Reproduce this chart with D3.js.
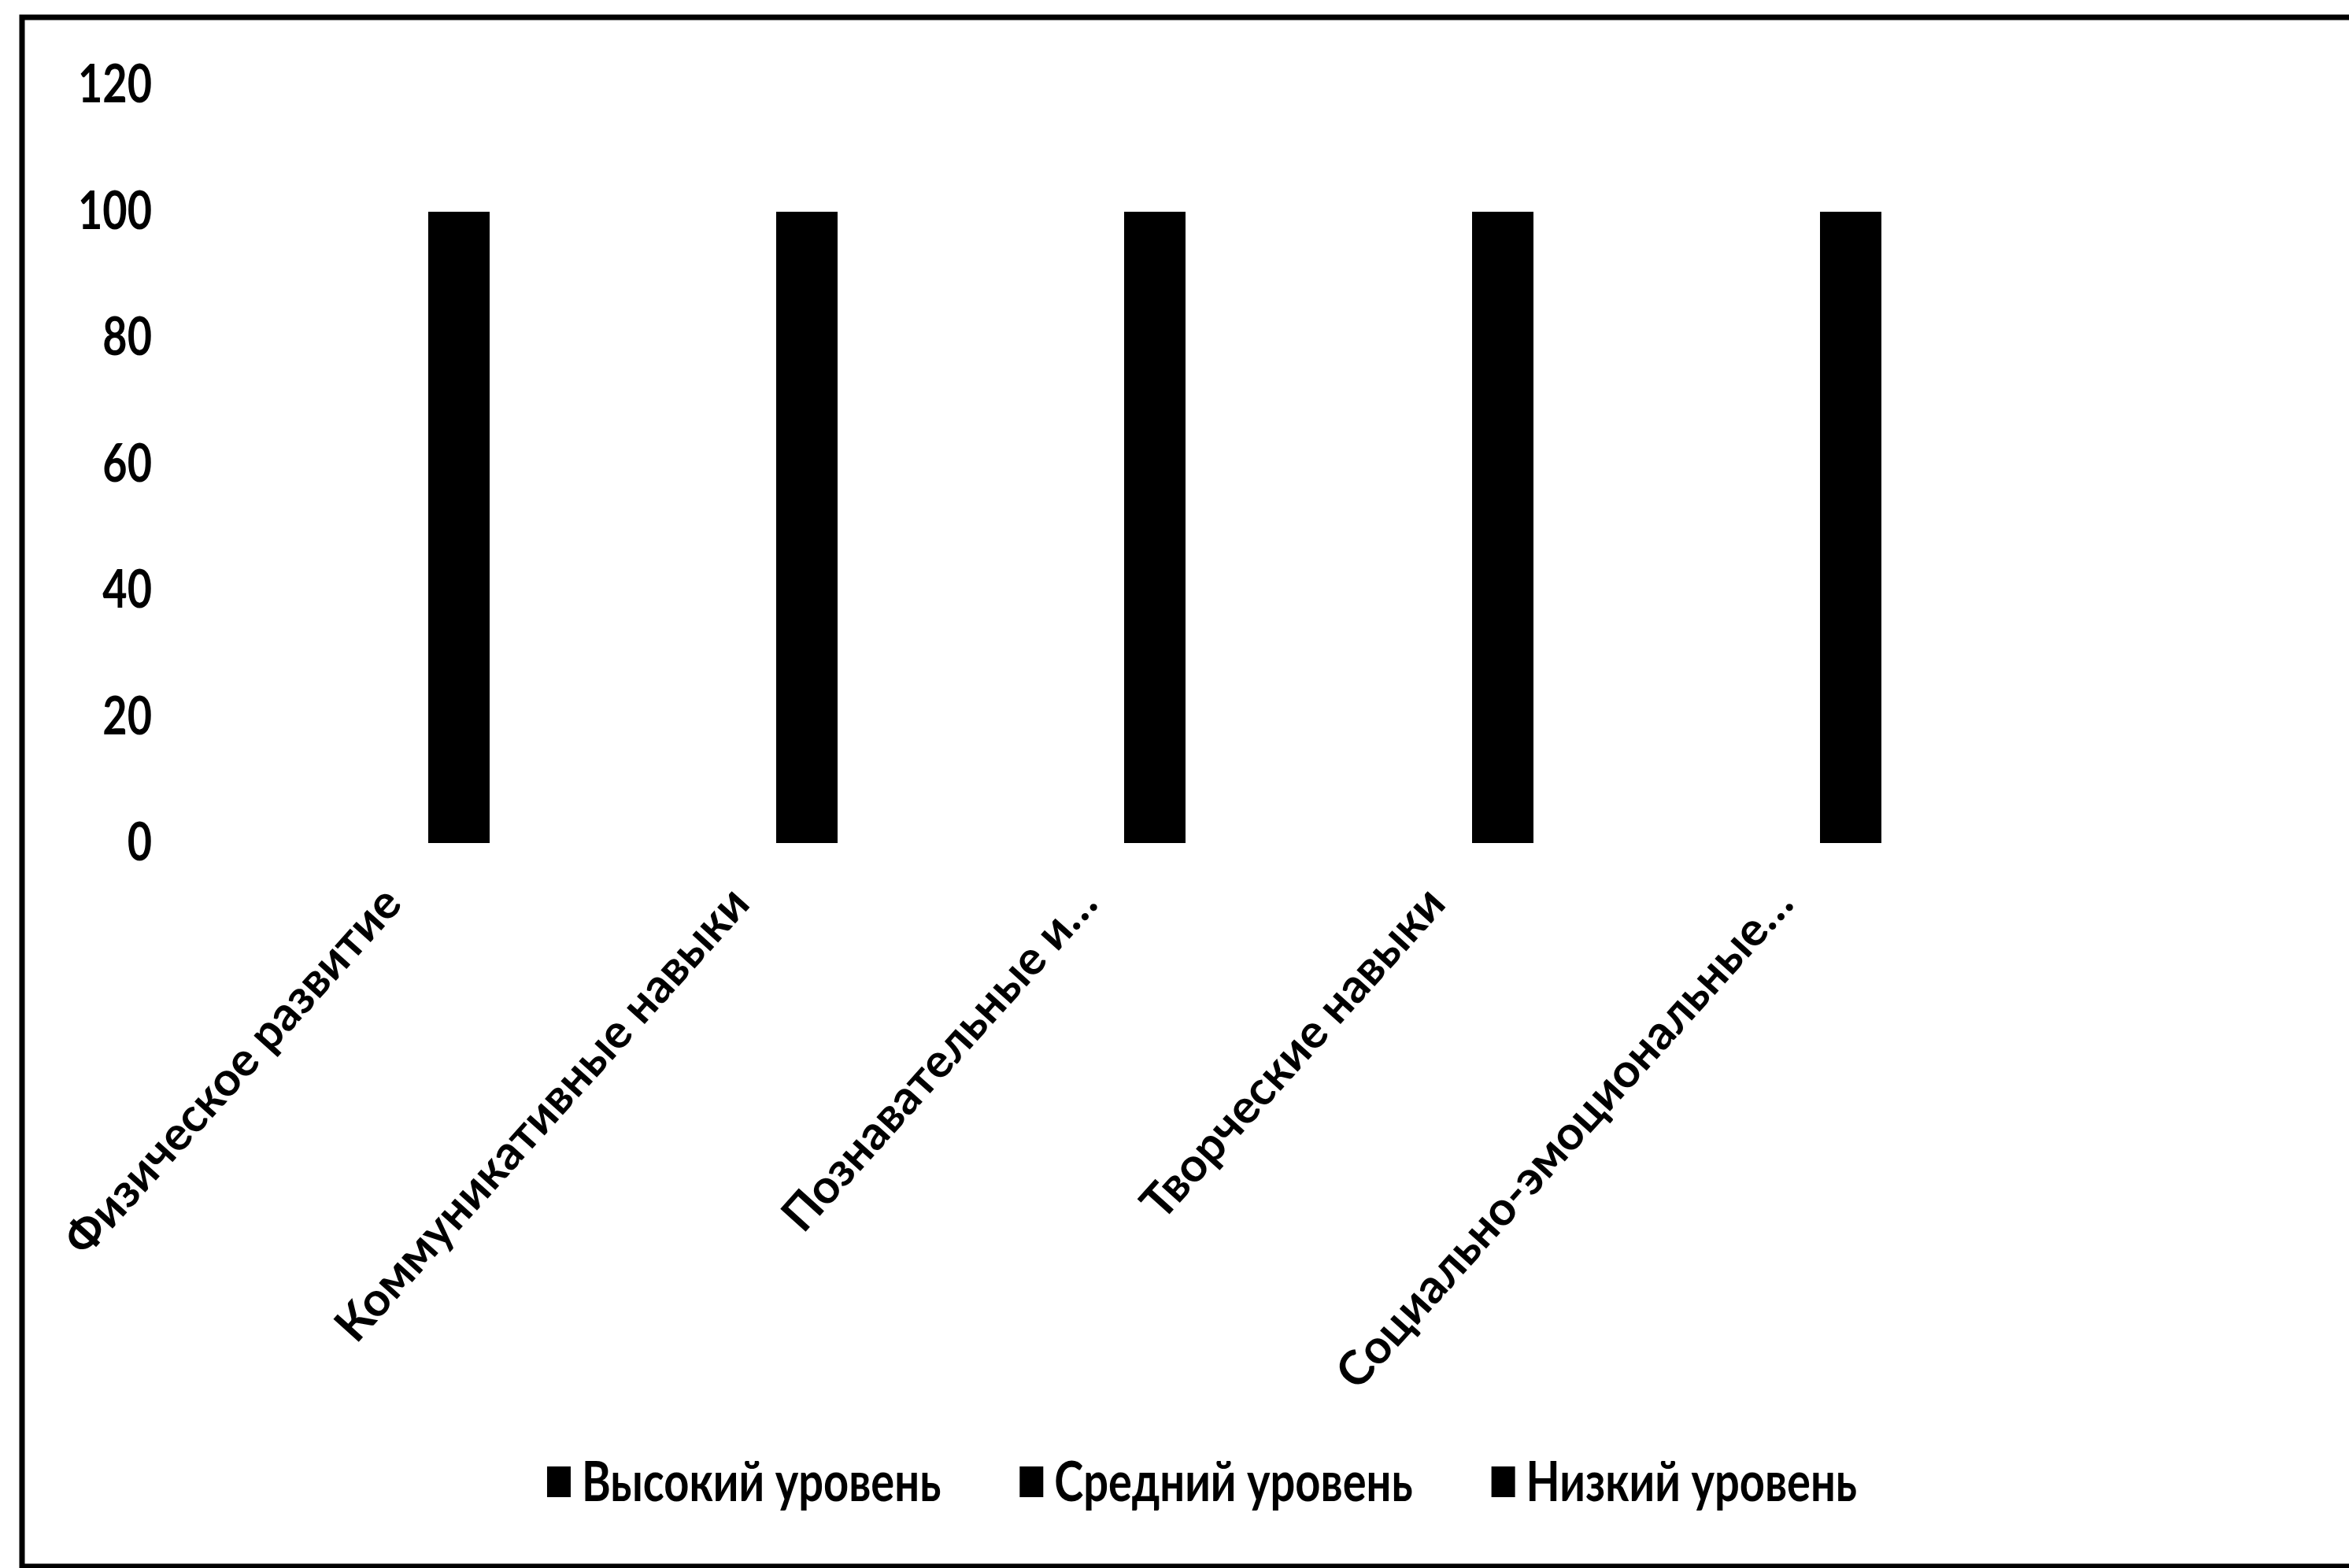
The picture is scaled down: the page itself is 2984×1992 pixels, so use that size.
<!DOCTYPE html>
<html>
<head>
<meta charset="utf-8">
<script src="https://cdn.jsdelivr.net/npm/d3@7"></script>
<style>
  html, body { margin: 0; padding: 0; background: #fff; }
  svg { display: block; }
  text { font-family: Lato, "Noto Sans", sans-serif; font-weight: 700; fill: #000; }
</style>
</head>
<body>
<svg id="chart"></svg>
<script>
const categories = [
    "Физическое развитие",
    "Коммуникативные навыки",
    "Познавательные и…",
    "Творческие навыки",
    "Социально-эмоциональные…"
];
const seriesNames = ["Высокий уровень", "Средний уровень", "Низкий уровень"];
// all three series are drawn in black, only the stacked total (100) is visible
const highLevel = [30, 25, 20, 15, 25];
const midLevel = [50, 55, 55, 60, 50];
const lowLevel = [20, 20, 25, 25, 25];
const yTicks = [0, 20, 40, 60, 80, 100, 120];

const width = 2984;
const height = 1992;
const plotLeft = 362;
const plotRight = 2572;
const plotTop = 108;
const plotBottom = 1071;
const textStretch = 1.25;

const svg = d3.select("#chart")
    .attr("width", width)
    .attr("height", height);

svg.append("rect")
    .attr("width", width)
    .attr("height", height)
    .attr("fill", "#fff");

// outer chart frame (right edge falls outside the picture)
svg.append("rect")
    .attr("x", 28)
    .attr("y", 22)
    .attr("width", 3000)
    .attr("height", 1968)
    .attr("fill", "none")
    .attr("stroke", "#000")
    .attr("stroke-width", 7);

const rows = categories.map((c, i) => ({
    category: c,
    [seriesNames[0]]: highLevel[i],
    [seriesNames[1]]: midLevel[i],
    [seriesNames[2]]: lowLevel[i]
}));

const stacked = d3.stack().keys(seriesNames)(rows);

const x = d3.scaleBand()
    .domain(categories)
    .range([plotLeft, plotRight])
    .paddingInner(0.8235)
    .paddingOuter(0.41176);

const y = d3.scaleLinear()
    .domain([0, 120])
    .range([plotBottom, plotTop]);

const color = d3.scaleOrdinal()
    .domain(seriesNames)
    .range(["#000", "#000", "#000"]);

// bars
svg.append("g")
    .attr("shape-rendering", "crispEdges")
    .selectAll("g")
    .data(stacked)
    .join("g")
    .attr("fill", d => color(d.key))
    .selectAll("rect")
    .data(d => d)
    .join("rect")
    .attr("x", d => x(d.data.category))
    .attr("y", d => y(d[1]))
    .attr("width", x.bandwidth())
    .attr("height", d => y(d[0]) - y(d[1]));

// y axis, no line and no ticks
const yAxis = svg.append("g")
    .attr("transform", `translate(193,0)`)
    .call(d3.axisLeft(y).tickValues(yTicks).tickSize(0).tickPadding(0));

yAxis.select(".domain").remove();
yAxis.selectAll("text")
    .style("font-size", "54px")
    .attr("fill", "#000")
    .attr("transform", `scale(1,${textStretch})`);

// category labels, rotated
svg.append("g")
    .selectAll("text")
    .data(categories)
    .join("text")
    .attr("text-anchor", "end")
    .style("font-size", "60px")
    .attr("transform", d => `translate(${x(d) + x.bandwidth() / 2 - 70},1150) rotate(-48)`)
    .text(d => d);

// legend
const legend = svg.append("g").attr("class", "legend");
const legendY = 1882;
let cursor = 0;
seriesNames.forEach((name, i) => {
    const item = legend.append("g").attr("transform", `translate(${cursor},0)`);
    item.append("rect")
        .attr("x", 0)
        .attr("y", legendY - 19)
        .attr("width", 30)
        .attr("height", 39)
        .attr("fill", color(name));
    const t = item.append("text")
        .attr("x", 44)
        .attr("y", 0)
        .attr("dy", "0.36em")
        .style("font-size", "56px")
        .attr("transform", `translate(0,${legendY}) scale(1,${textStretch})`)
        .text(name);
    cursor += 44 + t.node().getComputedTextLength() + 100;
});
const legendWidth = cursor - 100;
legend.attr("transform", `translate(${1527 - legendWidth / 2},0)`);
</script>
</body>
</html>
